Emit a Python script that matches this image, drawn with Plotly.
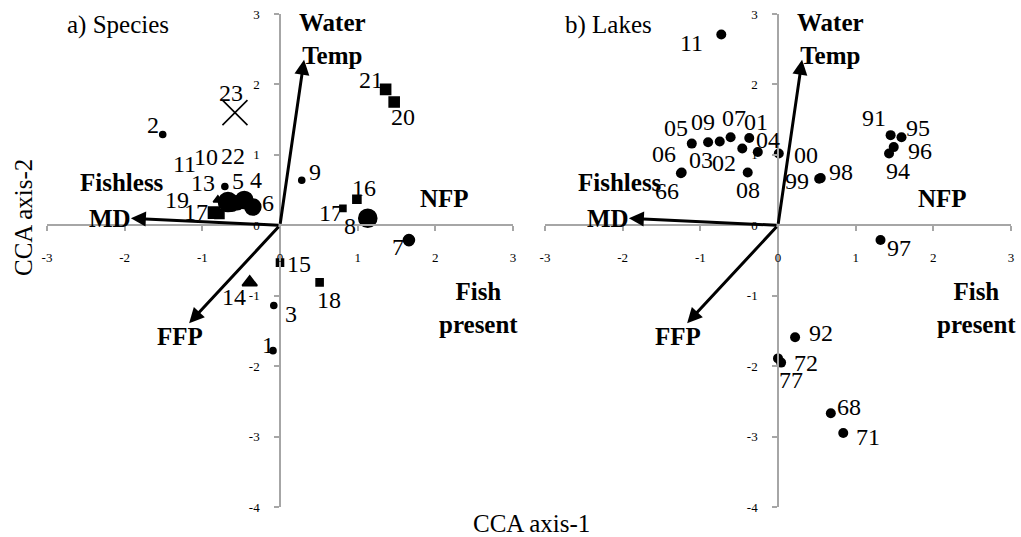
import plotly.graph_objects as go

# ---------------- data ----------------
# a) Species
species_labels = ["1", "2", "3", "4", "5", "6", "7", "8", "9", "10", "11", "13",
                  "14", "15", "16", "17", "17", "18", "19", "20", "21", "22", "23"]
species_x = [-0.09, -1.51, -0.08, -0.46, -0.71, -0.35, 1.66, 1.13, 0.28, -0.62, -0.80, -0.67,
             -0.39, 0.00, 0.99, 0.81, -0.85, 0.51, -0.78, 1.47, 1.36, -0.55, -0.58]
species_y = [-1.78, 1.29, -1.14, 0.36, 0.55, 0.26, -0.21, 0.10, 0.64, 0.30, 0.36, 0.33,
             -0.81, -0.53, 0.37, 0.24, 0.18, -0.81, 0.16, 1.75, 1.93, 0.32, 1.60]

# b) Lakes
lake_labels = ["11", "05", "09", "03", "07", "01", "02", "04", "00", "06", "66", "08",
               "99", "98", "91", "95", "96", "94", "97", "92", "72", "77", "68", "71"]
lake_x = [-0.73, -1.11, -0.90, -0.75, -0.61, -0.37, -0.46, -0.26, 0.01, -1.24, -1.25, -0.39,
          0.53, 0.55, 1.45, 1.59, 1.49, 1.43, 1.32, 0.22, 0.04, 0.00, 0.68, 0.84]
lake_y = [2.71, 1.16, 1.18, 1.19, 1.25, 1.24, 1.09, 1.04, 1.02, 0.75, 0.74, 0.75,
          0.66, 0.67, 1.28, 1.25, 1.11, 1.02, -0.21, -1.59, -1.95, -1.89, -2.67, -2.95]

# environmental vectors (arrow tips)
env_names = ["Water Temp", "MD", "FFP"]
env_x = [0.31, -1.92, -1.17]
env_y = [2.35, 0.10, -1.39]

# class / vector labels
cls_text = ["<b>Water<br>Temp</b>", "<b>MD</b>", "<b>FFP</b>", "<b>Fishless</b>",
            "<b>NFP</b>", "<b>Fish<br>present</b>"]
cls_x = [0.67, -2.19, -1.29, -2.03, 2.12, 2.56]
cls_y = [2.65, 0.10, -1.58, 0.61, 0.38, -1.18]

x_ticks = [-3, -2, -1, 0, 1, 2, 3]
y_ticks = [-4, -3, -2, -1, 0, 1, 2, 3]

# ---------------- styles ----------------
species_symbol = ["circle", "circle", "circle", "circle", "circle", "circle", "circle", "circle",
                  "circle", "circle", "triangle-up", "circle", "triangle-up", "square", "square",
                  "square", "square", "square", "square", "square", "square", "circle", "x-thin-open"]
species_size = [6, 6, 6, 17, 6, 16, 11, 18, 6, 14, 8, 19, 13, 7, 8, 6, 11, 7, 9, 10, 10, 14, 25]
# label offsets in pixels (dx right, dy up)
species_dx = [-5, -10, 17, 12, 13, 15, -11, -18, 13, -26, -33, -25, -16, 19, 7, -12, -18, 9, -42, 9, -15, -4, -4]
species_dy = [6, 9, -8, 20, 6, 4, -7, -8, 8, 47, 36, 19, -15, -1, 11, -5, 1, -18, 14, -15, 9, 47, 20]

lake_dx = [-30, -16, -5, -19, 3, 7, -18, 10, 27, -18, -14, 0, -22, 20, -17, 17, 26, 9, 18, 26, 25, 13, 18, 25]
lake_dy = [-9, 16, 20, -19, 19, 16, -14, 12, -2, 18, -18, -18, -2, 6, 17, 9, -4, -18, -8, 4, 0, -22, 6, -4]

FONT = "Liberation Serif, Times New Roman, serif"
AXIS_GRAY = "#a6a6a6"

fig = go.Figure()

fig.add_trace(go.Scatter(
    x=species_x, y=species_y, mode="markers", xaxis="x", yaxis="y",
    marker=dict(symbol=species_symbol, size=species_size, color="black", opacity=1,
                line=dict(color="black", width=1.6)),
    hoverinfo="text", text=species_labels, showlegend=False))

fig.add_trace(go.Scatter(
    x=lake_x, y=lake_y, mode="markers", xaxis="x2", yaxis="y2",
    marker=dict(symbol="circle", size=10, color="black", opacity=1),
    hoverinfo="text", text=lake_labels, showlegend=False))

annotations = []
for lab, x, y, dx, dy in zip(species_labels, species_x, species_y, species_dx, species_dy):
    annotations.append(dict(x=x, y=y, xref="x", yref="y", text=lab, showarrow=False,
                            xanchor="center", yanchor="middle",
                            xshift=dx, yshift=dy, font=dict(family=FONT, size=24, color="black")))
for lab, x, y, dx, dy in zip(lake_labels, lake_x, lake_y, lake_dx, lake_dy):
    annotations.append(dict(x=x, y=y, xref="x2", yref="y2", text=lab, showarrow=False,
                            xanchor="center", yanchor="middle",
                            xshift=dx, yshift=dy, font=dict(family=FONT, size=24, color="black")))

for xr, yr in (("x", "y"), ("x2", "y2")):
    for ex, ey in zip(env_x, env_y):
        annotations.append(dict(x=ex, y=ey, xref=xr, yref=yr, ax=0, ay=0, axref=xr, ayref=yr,
                                text="", showarrow=True, arrowhead=2, arrowsize=1.0,
                                arrowwidth=3, arrowcolor="black", standoff=0))
    for t, cx, cy in zip(cls_text, cls_x, cls_y):
        annotations.append(dict(x=cx, y=cy, xref=xr, yref=yr, text=t, showarrow=False,
                                xanchor="center", yanchor="middle",
                                font=dict(family=FONT, size=25, color="black")))

annotations += [
    dict(x=118 / 1021, y=1 - 25 / 537, xref="paper", yref="paper", text="a) Species",
         xanchor="center", yanchor="middle",
         showarrow=False, font=dict(family=FONT, size=25, color="black")),
    dict(x=608 / 1021, y=1 - 25 / 537, xref="paper", yref="paper", text="b) Lakes",
         xanchor="center", yanchor="middle",
         showarrow=False, font=dict(family=FONT, size=25, color="black")),
    dict(x=531 / 1021, y=1 - 523 / 537, xref="paper", yref="paper", text="CCA axis-1",
         xanchor="center", yanchor="middle",
         showarrow=False, font=dict(family=FONT, size=25, color="black")),
    dict(x=23 / 1021, y=1 - 218 / 537, xref="paper", yref="paper", text="CCA axis-2",
         xanchor="center", yanchor="middle",
         textangle=-90, showarrow=False, font=dict(family=FONT, size=25, color="black")),
]

ydom = [30 / 537, 523 / 537]
xdom_a = [47 / 1021, 513 / 1021]
xdom_b = [545 / 1021, 1011 / 1021]
xpos = ydom[0] + (4 / 7) * (ydom[1] - ydom[0])

def xax(dom):
    return dict(domain=dom, range=[-3, 3], anchor="free", position=xpos, automargin=False,
                tickvals=x_ticks, ticktext=[str(v) for v in x_ticks],
                ticks="outside", ticklen=5, tickwidth=1.5, tickcolor=AXIS_GRAY,
                showline=True, linecolor=AXIS_GRAY, linewidth=1.5, showgrid=False, zeroline=False,
                ticklabelstandoff=15, tickfont=dict(family=FONT, size=13, color="black"),
                fixedrange=True)

def yax(dom):
    return dict(domain=ydom, range=[-4, 3], anchor="free", position=(dom[0] + dom[1]) / 2,
                automargin=False,
                tickvals=y_ticks, ticktext=[str(v) for v in y_ticks],
                ticks="outside", ticklen=5, tickwidth=1.5, tickcolor=AXIS_GRAY,
                showline=True, linecolor=AXIS_GRAY, linewidth=1.5, showgrid=False, zeroline=False,
                ticklabelstandoff=12, tickfont=dict(family=FONT, size=13, color="black"),
                fixedrange=True)

fig.update_layout(
    width=1021, height=537, margin=dict(l=0, r=0, t=0, b=0, pad=0, autoexpand=False),
    paper_bgcolor="white", plot_bgcolor="white",
    xaxis=xax(xdom_a), yaxis=yax(xdom_a),
    xaxis2=xax(xdom_b), yaxis2=yax(xdom_b),
    annotations=annotations, showlegend=False,
)

fig.write_html("out.html")
